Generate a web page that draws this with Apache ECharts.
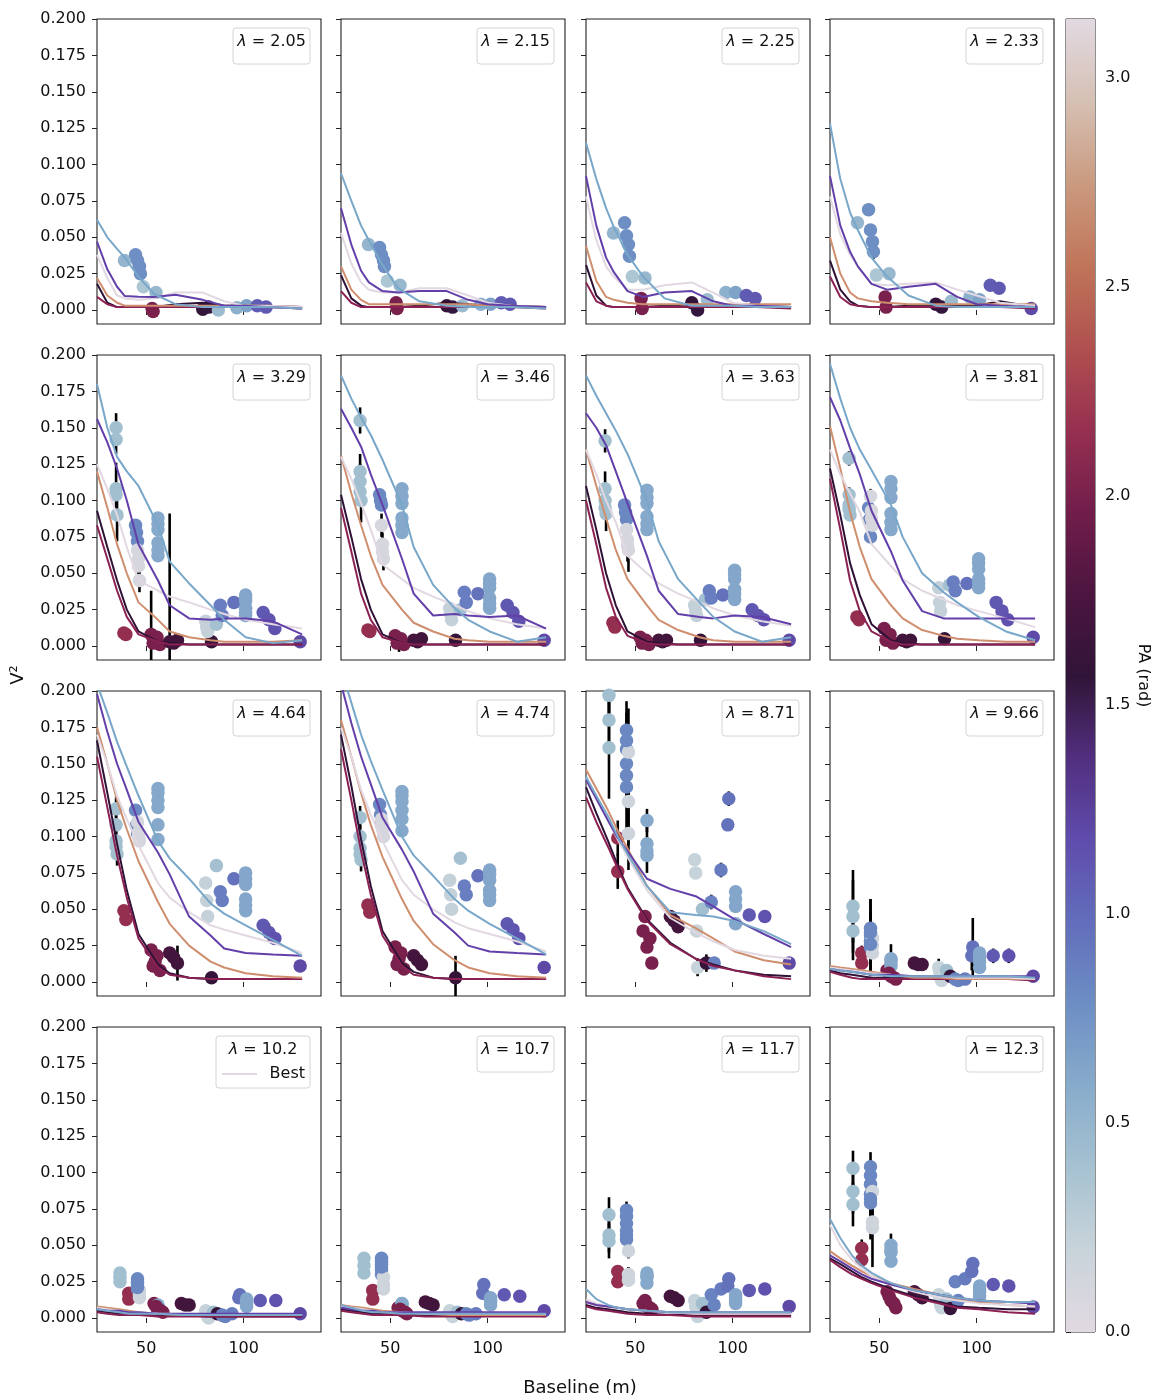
<!DOCTYPE html>
<html>
<head>
<meta charset="utf-8">
<script src="https://cdn.jsdelivr.net/npm/echarts@6/dist/echarts.min.js"></script>
<style>
  html, body { margin: 0; padding: 0; background: #fff; }
  #chart { width: 1156px; height: 1398px; }
</style>
</head>
<body>
<div id="chart"></div>
<script>
// ---------------------------------------------------------------------------
// Squared visibility vs. projected baseline, one panel per wavelength (micron)
// ---------------------------------------------------------------------------
const lambdaLabels = ['2.05', '2.15', '2.25', '2.33', '3.29', '3.46', '3.63', '3.81',
                      '4.64', '4.74', '8.71', '9.66', '10.2', '10.7', '11.7', '12.3'];

// axis ticks
const xTicks = [50, 100];
const yTicks = [0, 0.025, 0.05, 0.075, 0.1, 0.125, 0.15, 0.175, 0.2];
const paTicks = [0, 0.5, 1.0, 1.5, 2.0, 2.5, 3.0];

// --- K band uv points (baseline in m, position angle in rad) ---
const baselineK = [38.8, 44.5, 45.5, 46.5, 47.0, 48.5, 55.0, 53.0, 53.5, 79.0, 82.0, 87.0, 96.5, 101.5, 107.0, 111.5, 128.0];
const paK       = [0.50, 0.78, 0.78, 0.78, 0.78, 0.35, 0.48, 2.00, 2.00, 1.60, 1.55, 0.45, 0.55, 0.65, 1.08, 1.10, 1.20];

const v2_2_05 = [0.034, 0.038, 0.034, 0.030, 0.025, 0.016, 0.012, 0.001, -0.001, 0.0005, 0.002, 0.000, 0.0015, 0.003, 0.003, 0.002, null];
const v2_2_15 = [0.045, 0.043, 0.038, 0.034, 0.030, 0.020, 0.017, 0.005, 0.001, 0.003, 0.002, 0.003, 0.004, 0.004, 0.005, 0.004, null];
const v2_2_25 = [0.053, 0.060, 0.051, 0.045, 0.037, 0.023, 0.022, 0.008, 0.001, 0.005, 0.000, 0.007, 0.012, 0.012, 0.010, 0.008, null];
const v2_2_33 = [0.060, 0.069, 0.055, 0.047, 0.040, 0.024, 0.025, 0.009, 0.002, 0.004, 0.002, 0.006, 0.009, 0.007, 0.017, 0.015, 0.001];

// error bars: [point index, 1-sigma]
const err_2_05 = [[1, 0.004], [12, 0.004], [13, 0.004]];
const err_2_15 = [[1, 0.004]];
const err_2_25 = [[1, 0.004], [3, 0.006], [13, 0.003]];
const err_2_33 = [[1, 0.004], [4, 0.005]];

// --- L/M band uv points ---
const baselineL = [34.5, 34.5, 34.5, 35.0, 38.5, 39.5, 44.5, 45.0, 45.5, 45.5, 46.0, 46.5, 52.5, 54.5, 57.0,
                   56.0, 56.0, 56.0, 56.0, 62.0, 66.0, 83.5, 80.5, 81.0, 81.5, 86.0, 88.0, 89.0, 95.0,
                   101.0, 101.0, 101.0, 101.0, 110.0, 113.0, 116.0, 129.0,
                   56.0, 56.0, 101.0, 101.0, 46.0, 34.5, 55.5, 53.5, 64.0];
const paL = [0.42, 0.42, 0.42, 0.42, 2.15, 2.15, 0.82, 0.82, 0.82, 0.10, 0.10, 0.10, 2.00, 2.00, 2.00,
             0.60, 0.60, 0.60, 0.60, 1.72, 1.68, 1.60, 0.22, 0.22, 0.22, 0.40, 0.88, 0.88, 0.95,
             0.62, 0.62, 0.62, 0.62, 1.10, 1.12, 1.15, 1.20,
             0.60, 0.60, 0.62, 0.62, 0.10, 0.42, 2.00, 2.00, 1.70];

const v2_3_29 = [0.150, 0.142, 0.108, 0.090, 0.009, 0.008, 0.083, 0.078, 0.072, 0.066, 0.055, 0.045, 0.008, 0.003, 0.001,
                 0.088, 0.080, 0.071, 0.062, 0.003, 0.004, 0.003, 0.017, 0.013, 0.010, 0.015, 0.028, 0.021, 0.030,
                 0.035, 0.031, 0.026, 0.021, 0.023, 0.018, 0.012, 0.003,
                 0.084, 0.066, 0.033, 0.023, 0.060, 0.104, 0.006, 0.002, 0.002];
const v2_3_46 = [0.155, 0.120, 0.113, 0.100, 0.011, 0.010, 0.104, 0.100, 0.097, 0.083, 0.070, 0.060, 0.007, 0.003, 0.001,
                 0.108, 0.098, 0.088, 0.078, 0.004, 0.005, 0.004, 0.026, 0.022, 0.018, 0.025, 0.037, 0.030, 0.036,
                 0.046, 0.040, 0.033, 0.026, 0.028, 0.023, 0.017, 0.004,
                 0.103, 0.083, 0.043, 0.029, 0.065, 0.106, 0.005, 0.002, 0.003];
const v2_3_63 = [0.141, 0.108, 0.100, 0.091, 0.016, 0.013, 0.097, 0.092, 0.087, 0.080, 0.073, 0.066, 0.006, 0.003, 0.001,
                 0.107, 0.098, 0.089, 0.080, 0.004, 0.004, 0.004, 0.028, 0.024, 0.021, 0.032, 0.038, 0.033, 0.035,
                 0.052, 0.046, 0.039, 0.032, 0.025, 0.021, 0.018, 0.004,
                 0.102, 0.084, 0.049, 0.036, 0.069, 0.095, 0.004, 0.002, 0.003];
const v2_3_81 = [0.129, 0.104, 0.097, 0.090, 0.020, 0.018, 0.095, 0.087, 0.075, 0.103, 0.093, 0.083, 0.012, 0.005, 0.002,
                 0.113, 0.102, 0.091, 0.080, 0.004, 0.004, 0.005, 0.040, 0.030, 0.024, 0.042, 0.044, 0.038, 0.043,
                 0.060, 0.053, 0.046, 0.040, 0.030, 0.024, 0.018, 0.006,
                 0.108, 0.085, 0.057, 0.043, 0.088, 0.094, 0.008, 0.004, 0.003];
const v2_4_64 = [0.119, 0.108, 0.097, 0.088, 0.049, 0.043, 0.118, 0.108, 0.102, 0.110, 0.103, 0.097, 0.022, 0.014, 0.008,
                 0.133, 0.125, 0.108, 0.098, 0.020, 0.013, 0.003, 0.068, 0.056, 0.045, 0.080, 0.062, 0.056, 0.071,
                 0.075, 0.067, 0.057, 0.049, 0.039, 0.034, 0.030, 0.011,
                 0.130, 0.120, 0.071, 0.053, 0.100, 0.093, 0.018, 0.011, 0.017];
const v2_4_74 = [0.113, 0.100, 0.092, 0.084, 0.053, 0.048, 0.122, 0.115, 0.108, 0.112, 0.105, 0.100, 0.024, 0.016, 0.009,
                 0.131, 0.124, 0.112, 0.104, 0.018, 0.012, 0.003, 0.070, 0.060, 0.050, 0.085, 0.066, 0.060, 0.073,
                 0.077, 0.070, 0.063, 0.056, 0.040, 0.036, 0.030, 0.010,
                 0.128, 0.118, 0.074, 0.060, 0.108, 0.088, 0.020, 0.012, 0.015];

const err_3_29 = [[0, 0.010], [1, 0.010], [2, 0.018], [3, 0.018], [9, 0.008], [10, 0.008], [11, 0.008],
                  [12, 0.030], [15, 0.004], [19, 0.088], [26, 0.003]];
const err_3_46 = [[0, 0.009], [1, 0.012], [2, 0.012], [3, 0.015], [9, 0.008], [10, 0.008], [11, 0.008],
                  [13, 0.007], [15, 0.004], [26, 0.003]];
const err_3_63 = [[0, 0.008], [1, 0.012], [2, 0.012], [3, 0.012], [9, 0.015], [10, 0.015], [11, 0.015], [15, 0.004]];
const err_3_81 = [[0, 0.005], [1, 0.005], [9, 0.005], [15, 0.003], [26, 0.002]];
const err_4_64 = [[0, 0.008], [1, 0.008], [2, 0.008], [3, 0.008], [20, 0.012], [34, 0.006], [15, 0.003], [22, 0.003], [28, 0.003]];
const err_4_74 = [[0, 0.008], [1, 0.008], [2, 0.008], [3, 0.008], [21, 0.015], [15, 0.003], [22, 0.004]];

// --- N band uv points ---
const baselineN = [36.5, 36.5, 36.5, 41.0, 41.0, 45.5, 45.5, 45.5, 45.5, 46.5, 46.5, 46.5, 54.0, 56.0, 58.5,
                   56.0, 56.0, 56.0, 68.0, 72.0, 80.5, 81.0, 81.5, 82.0, 84.5, 86.5, 89.0, 90.5, 94.0,
                   97.5, 98.0, 101.5, 101.5, 101.5, 108.5, 116.5, 129.0,
                   45.5, 45.5, 101.5, 56.0, 55.0, 57.5, 70.0];
const paN = [0.42, 0.42, 0.42, 2.15, 2.15, 0.82, 0.82, 0.82, 0.82, 0.15, 0.15, 0.15, 2.00, 2.00, 2.00,
             0.60, 0.60, 0.60, 1.72, 1.70, 0.20, 0.20, 0.20, 0.20, 0.42, 1.60, 0.85, 0.85, 0.90,
             0.95, 0.95, 0.62, 0.62, 0.62, 1.10, 1.15, 1.20,
             0.82, 0.82, 0.62, 0.60, 2.00, 2.00, 1.70];

const v2_8_71 = [0.197, 0.180, 0.161, 0.099, 0.076, 0.173, 0.160, 0.150, 0.134, 0.158, 0.124, 0.102, 0.035, 0.024, 0.013,
                 0.111, 0.095, 0.087, 0.045, 0.038, 0.084, 0.075, 0.035, 0.010, 0.050, 0.013, 0.055, 0.013, 0.077,
                 0.108, 0.126, 0.062, 0.052, 0.040, 0.046, 0.045, 0.013,
                 0.166, 0.142, 0.057, 0.090, 0.045, 0.030, 0.042];
const v2_9_66 = [0.052, 0.045, 0.035, 0.020, 0.013, 0.037, 0.032, 0.028, 0.024, 0.030, 0.025, 0.020, 0.008, 0.004, 0.002,
                 0.016, 0.013, 0.011, 0.013, 0.012, 0.010, 0.007, 0.003, 0.001, 0.008, 0.004, 0.002, 0.001, 0.002,
                 0.018, 0.024, 0.020, 0.014, 0.010, 0.018, 0.018, 0.004,
                 0.034, 0.026, 0.017, 0.015, 0.006, 0.003, 0.012];
const v2_10_2 = [0.031, 0.028, 0.025, 0.017, 0.013, 0.027, 0.025, 0.022, 0.020, 0.019, 0.016, 0.014, 0.010, 0.006, 0.004,
                 0.009, 0.007, 0.005, 0.010, 0.009, 0.005, 0.003, 0.001, 0.000, 0.004, 0.003, 0.002, 0.001, 0.003,
                 0.014, 0.016, 0.013, 0.010, 0.008, 0.012, 0.012, 0.003,
                 0.024, 0.021, 0.011, 0.008, 0.008, 0.005, 0.009];
const v2_10_7 = [0.041, 0.036, 0.031, 0.019, 0.013, 0.041, 0.037, 0.033, 0.030, 0.028, 0.023, 0.020, 0.007, 0.005, 0.003,
                 0.010, 0.009, 0.007, 0.011, 0.009, 0.005, 0.004, 0.002, 0.001, 0.004, 0.003, 0.003, 0.002, 0.003,
                 0.017, 0.023, 0.014, 0.011, 0.009, 0.016, 0.015, 0.005,
                 0.039, 0.035, 0.012, 0.010, 0.006, 0.004, 0.010];
const v2_11_7 = [0.071, 0.057, 0.053, 0.032, 0.025, 0.074, 0.065, 0.060, 0.054, 0.046, 0.030, 0.026, 0.010, 0.008, 0.006,
                 0.031, 0.028, 0.024, 0.015, 0.012, 0.012, 0.008, 0.004, 0.001, 0.010, 0.004, 0.016, 0.009, 0.020,
                 0.022, 0.027, 0.014, 0.012, 0.010, 0.019, 0.020, 0.008,
                 0.070, 0.057, 0.016, 0.029, 0.012, 0.007, 0.014];
const v2_12_3 = [0.103, 0.087, 0.078, 0.048, 0.040, 0.104, 0.092, 0.085, 0.079, 0.087, 0.066, 0.062, 0.018, 0.012, 0.007,
                 0.050, 0.045, 0.039, 0.018, 0.014, 0.016, 0.012, 0.009, 0.007, 0.013, 0.0065, 0.025, 0.012, 0.027,
                 0.032, 0.0375, 0.020, 0.018, 0.015, 0.023, 0.022, 0.0076,
                 0.098, 0.082, 0.022, 0.047, 0.015, 0.010, 0.016];

const err_8_71 = [[0, 0.012], [1, 0.020], [2, 0.035], [3, 0.012], [4, 0.012], [5, 0.020], [6, 0.025], [7, 0.030],
                  [8, 0.030], [9, 0.030], [10, 0.030], [11, 0.025], [15, 0.008], [16, 0.012], [17, 0.012],
                  [20, 0.004], [23, 0.006], [25, 0.006], [26, 0.005], [28, 0.005], [29, 0.004], [30, 0.005]];
const err_9_66 = [[0, 0.025], [1, 0.025], [2, 0.020], [3, 0.005], [5, 0.020], [6, 0.025], [7, 0.020], [8, 0.020],
                  [15, 0.010], [20, 0.006], [21, 0.006], [29, 0.010], [30, 0.020], [34, 0.005], [35, 0.005]];
const err_10_2 = [];
const err_10_7 = [];
const err_11_7 = [[0, 0.012], [1, 0.012], [2, 0.012], [3, 0.004], [5, 0.006], [6, 0.006], [9, 0.005], [10, 0.005]];
const err_12_3 = [[0, 0.012], [1, 0.015], [2, 0.015], [3, 0.006], [5, 0.010], [6, 0.012], [7, 0.020], [8, 0.025],
                  [9, 0.020], [11, 0.027], [15, 0.008]];

// --- model curves: baselines where each model is evaluated ---
const modelBaseK = [24.7, 30, 35, 39, 46, 54, 65, 79, 90, 100, 112, 130];
const modelBaseL = [24.7, 30, 35, 40, 46, 56, 62, 72, 83, 90, 101, 115, 130];
const modelBaseN = [24.7, 30, 36, 41, 46, 56, 68, 81, 90, 101, 116, 130];

// model order: PA 0.5, PA 1.1, Best, PA 2.6, PA 1.6, PA 2.0
const model_2_05 = [
  [0.062, 0.050, 0.042, 0.036, 0.023, 0.011, 0.004, 0.002, 0.002, 0.002, 0.002, 0.001],
  [0.047, 0.028, 0.016, 0.0096, 0.0092, 0.009, 0.0105, 0.007, 0.003, 0.003, 0.002, 0.001],
  [0.038, 0.022, 0.010, 0.008, 0.007, 0.008, 0.012, 0.012, 0.006, 0.003, 0.003, 0.002],
  [0.022, 0.010, 0.005, 0.003, 0.003, 0.003, 0.003, 0.003, 0.003, 0.003, 0.003, 0.002],
  [0.018, 0.005, 0.002, 0.002, 0.002, 0.002, 0.004, 0.005, 0.003, 0.003, 0.003, 0.002],
  [0.009, 0.004, 0.002, 0.002, 0.002, 0.002, 0.002, 0.002, 0.002, 0.002, 0.002, 0.001]];
const model_2_15 = [
  [0.094, 0.075, 0.058, 0.048, 0.031, 0.015, 0.006, 0.003, 0.002, 0.002, 0.002, 0.001],
  [0.070, 0.045, 0.027, 0.019, 0.013, 0.012, 0.013, 0.013, 0.007, 0.004, 0.003, 0.002],
  [0.053, 0.032, 0.019, 0.014, 0.012, 0.012, 0.015, 0.015, 0.010, 0.005, 0.003, 0.002],
  [0.030, 0.014, 0.007, 0.004, 0.004, 0.004, 0.004, 0.004, 0.004, 0.003, 0.003, 0.002],
  [0.024, 0.008, 0.003, 0.002, 0.002, 0.002, 0.003, 0.005, 0.004, 0.003, 0.003, 0.002],
  [0.013, 0.005, 0.002, 0.002, 0.002, 0.002, 0.002, 0.002, 0.002, 0.002, 0.002, 0.001]];
const model_2_25 = [
  [0.115, 0.090, 0.070, 0.057, 0.038, 0.023, 0.008, 0.003, 0.003, 0.003, 0.002, 0.002],
  [0.092, 0.058, 0.036, 0.026, 0.013, 0.009, 0.012, 0.013, 0.006, 0.003, 0.003, 0.002],
  [0.078, 0.048, 0.030, 0.023, 0.014, 0.014, 0.017, 0.019, 0.012, 0.005, 0.003, 0.002],
  [0.044, 0.020, 0.009, 0.007, 0.005, 0.004, 0.004, 0.004, 0.004, 0.004, 0.004, 0.004],
  [0.031, 0.010, 0.003, 0.002, 0.002, 0.002, 0.003, 0.004, 0.003, 0.003, 0.003, 0.002],
  [0.019, 0.006, 0.003, 0.002, 0.002, 0.002, 0.002, 0.002, 0.002, 0.002, 0.002, 0.001]];
const model_2_33 = [
  [0.128, 0.090, 0.067, 0.055, 0.036, 0.023, 0.010, 0.003, 0.002, 0.002, 0.002, 0.002],
  [0.092, 0.058, 0.040, 0.030, 0.018, 0.014, 0.016, 0.018, 0.009, 0.004, 0.003, 0.002],
  [0.078, 0.052, 0.038, 0.030, 0.018, 0.017, 0.018, 0.019, 0.014, 0.010, 0.005, 0.003],
  [0.050, 0.025, 0.012, 0.008, 0.006, 0.005, 0.004, 0.004, 0.004, 0.004, 0.004, 0.004],
  [0.034, 0.014, 0.006, 0.003, 0.002, 0.002, 0.003, 0.003, 0.003, 0.003, 0.006, 0.002],
  [0.023, 0.009, 0.004, 0.003, 0.002, 0.002, 0.002, 0.002, 0.002, 0.002, 0.002, 0.001]];

const model_3_29 = [
  [0.180, 0.150, 0.130, 0.120, 0.110, 0.083, 0.058, 0.043, 0.028, 0.018, 0.006, 0.002, 0.004],
  [0.156, 0.140, 0.122, 0.100, 0.070, 0.045, 0.028, 0.019, 0.018, 0.019, 0.019, 0.017, 0.008],
  [0.125, 0.108, 0.090, 0.068, 0.045, 0.038, 0.034, 0.030, 0.025, 0.022, 0.018, 0.015, 0.012],
  [0.120, 0.095, 0.070, 0.050, 0.030, 0.018, 0.010, 0.006, 0.004, 0.003, 0.003, 0.003, 0.004],
  [0.093, 0.068, 0.045, 0.025, 0.010, 0.003, 0.002, 0.001, 0.001, 0.001, 0.001, 0.001, 0.001],
  [0.083, 0.060, 0.038, 0.020, 0.008, 0.003, 0.001, 0.001, 0.001, 0.001, 0.001, 0.001, 0.001]];
const model_3_46 = [
  [0.186, 0.170, 0.157, 0.145, 0.128, 0.097, 0.068, 0.042, 0.026, 0.018, 0.010, 0.003, 0.006],
  [0.163, 0.150, 0.137, 0.118, 0.097, 0.060, 0.036, 0.021, 0.022, 0.021, 0.020, 0.021, 0.012],
  [0.130, 0.115, 0.098, 0.080, 0.056, 0.046, 0.040, 0.034, 0.028, 0.024, 0.019, 0.015, 0.012],
  [0.131, 0.105, 0.083, 0.062, 0.042, 0.025, 0.016, 0.010, 0.005, 0.004, 0.003, 0.003, 0.003],
  [0.104, 0.075, 0.046, 0.025, 0.008, 0.002, 0.001, 0.001, 0.001, 0.001, 0.001, 0.001, 0.001],
  [0.095, 0.065, 0.036, 0.018, 0.006, 0.002, 0.001, 0.001, 0.001, 0.001, 0.001, 0.001, 0.001]];
const model_3_63 = [
  [0.186, 0.172, 0.160, 0.148, 0.132, 0.100, 0.072, 0.046, 0.030, 0.020, 0.010, 0.003, 0.006],
  [0.160, 0.150, 0.138, 0.120, 0.098, 0.062, 0.038, 0.022, 0.020, 0.019, 0.021, 0.020, 0.015],
  [0.135, 0.118, 0.100, 0.085, 0.062, 0.050, 0.043, 0.036, 0.030, 0.026, 0.021, 0.017, 0.014],
  [0.135, 0.110, 0.088, 0.066, 0.046, 0.028, 0.018, 0.011, 0.006, 0.004, 0.003, 0.003, 0.003],
  [0.110, 0.080, 0.050, 0.028, 0.010, 0.003, 0.002, 0.001, 0.001, 0.001, 0.001, 0.001, 0.001],
  [0.100, 0.070, 0.040, 0.020, 0.007, 0.002, 0.001, 0.001, 0.001, 0.001, 0.001, 0.001, 0.001]];
const model_3_81 = [
  [0.194, 0.170, 0.150, 0.135, 0.121, 0.097, 0.075, 0.050, 0.037, 0.030, 0.020, 0.010, 0.004],
  [0.171, 0.155, 0.136, 0.118, 0.093, 0.065, 0.045, 0.024, 0.019, 0.019, 0.019, 0.019, 0.019],
  [0.135, 0.118, 0.105, 0.092, 0.070, 0.055, 0.046, 0.038, 0.032, 0.028, 0.024, 0.019, 0.013],
  [0.151, 0.122, 0.092, 0.068, 0.046, 0.028, 0.019, 0.011, 0.007, 0.005, 0.004, 0.003, 0.003],
  [0.122, 0.090, 0.057, 0.035, 0.015, 0.004, 0.002, 0.001, 0.001, 0.001, 0.001, 0.001, 0.001],
  [0.115, 0.080, 0.045, 0.024, 0.010, 0.003, 0.001, 0.001, 0.001, 0.001, 0.001, 0.001, 0.001]];
const model_4_64 = [
  [0.205, 0.185, 0.165, 0.148, 0.128, 0.097, 0.085, 0.071, 0.054, 0.047, 0.039, 0.029, 0.018],
  [0.198, 0.172, 0.150, 0.132, 0.110, 0.089, 0.074, 0.045, 0.032, 0.023, 0.020, 0.019, 0.018],
  [0.170, 0.150, 0.128, 0.112, 0.094, 0.068, 0.058, 0.048, 0.039, 0.036, 0.032, 0.027, 0.020],
  [0.175, 0.150, 0.125, 0.105, 0.083, 0.055, 0.040, 0.025, 0.014, 0.010, 0.006, 0.004, 0.003],
  [0.166, 0.130, 0.095, 0.063, 0.033, 0.012, 0.006, 0.003, 0.002, 0.002, 0.002, 0.002, 0.002],
  [0.155, 0.120, 0.087, 0.058, 0.030, 0.010, 0.005, 0.003, 0.002, 0.002, 0.002, 0.002, 0.002]];
const model_4_74 = [
  [0.215, 0.192, 0.170, 0.152, 0.132, 0.100, 0.087, 0.073, 0.057, 0.049, 0.040, 0.030, 0.019],
  [0.205, 0.178, 0.155, 0.136, 0.113, 0.091, 0.076, 0.047, 0.034, 0.025, 0.021, 0.020, 0.019],
  [0.175, 0.155, 0.132, 0.115, 0.097, 0.070, 0.060, 0.050, 0.041, 0.037, 0.033, 0.028, 0.021],
  [0.180, 0.155, 0.130, 0.108, 0.086, 0.057, 0.042, 0.026, 0.015, 0.010, 0.006, 0.004, 0.003],
  [0.170, 0.135, 0.098, 0.066, 0.035, 0.013, 0.007, 0.003, 0.002, 0.002, 0.002, 0.002, 0.002],
  [0.160, 0.125, 0.090, 0.060, 0.032, 0.011, 0.005, 0.003, 0.002, 0.002, 0.002, 0.002, 0.002]];

const model_8_71 = [
  [0.141, 0.128, 0.114, 0.100, 0.088, 0.066, 0.048, 0.046, 0.045, 0.042, 0.035, 0.026],
  [0.139, 0.126, 0.111, 0.099, 0.090, 0.071, 0.064, 0.059, 0.052, 0.043, 0.033, 0.024],
  [0.140, 0.126, 0.111, 0.098, 0.086, 0.063, 0.044, 0.034, 0.028, 0.022, 0.018, 0.016],
  [0.146, 0.133, 0.118, 0.104, 0.092, 0.066, 0.046, 0.037, 0.030, 0.021, 0.015, 0.012],
  [0.134, 0.116, 0.097, 0.080, 0.065, 0.043, 0.027, 0.016, 0.012, 0.008, 0.005, 0.004],
  [0.127, 0.110, 0.093, 0.078, 0.064, 0.042, 0.026, 0.016, 0.011, 0.008, 0.004, 0.002]];
const model_9_66 = [
  [0.009, 0.008, 0.007, 0.006, 0.005, 0.004, 0.004, 0.004, 0.004, 0.004, 0.004, 0.003],
  [0.009, 0.008, 0.007, 0.006, 0.005, 0.005, 0.004, 0.004, 0.004, 0.004, 0.004, 0.004],
  [0.010, 0.009, 0.008, 0.007, 0.006, 0.005, 0.004, 0.004, 0.003, 0.003, 0.003, 0.002],
  [0.011, 0.010, 0.009, 0.008, 0.007, 0.005, 0.003, 0.003, 0.002, 0.002, 0.002, 0.002],
  [0.008, 0.006, 0.005, 0.004, 0.003, 0.003, 0.003, 0.002, 0.002, 0.002, 0.002, 0.002],
  [0.007, 0.005, 0.003, 0.002, 0.002, 0.002, 0.002, 0.002, 0.002, 0.002, 0.002, 0.001]];
const model_10_2 = [
  [0.006, 0.005, 0.004, 0.003, 0.003, 0.003, 0.002, 0.002, 0.002, 0.002, 0.002, 0.002],
  [0.006, 0.005, 0.005, 0.004, 0.004, 0.003, 0.003, 0.003, 0.003, 0.003, 0.003, 0.003],
  [0.007, 0.006, 0.005, 0.004, 0.004, 0.003, 0.003, 0.002, 0.002, 0.002, 0.002, 0.002],
  [0.008, 0.007, 0.006, 0.005, 0.004, 0.003, 0.002, 0.002, 0.002, 0.002, 0.002, 0.002],
  [0.005, 0.004, 0.003, 0.002, 0.002, 0.002, 0.002, 0.001, 0.001, 0.001, 0.001, 0.001],
  [0.004, 0.003, 0.002, 0.002, 0.002, 0.001, 0.001, 0.001, 0.001, 0.001, 0.001, 0.001]];
const model_10_7 = [
  [0.009, 0.007, 0.005, 0.004, 0.004, 0.003, 0.003, 0.003, 0.003, 0.003, 0.003, 0.003],
  [0.007, 0.006, 0.005, 0.005, 0.004, 0.004, 0.004, 0.004, 0.004, 0.004, 0.004, 0.004],
  [0.008, 0.007, 0.006, 0.005, 0.004, 0.004, 0.003, 0.003, 0.003, 0.003, 0.003, 0.003],
  [0.009, 0.008, 0.007, 0.006, 0.005, 0.004, 0.003, 0.002, 0.002, 0.002, 0.002, 0.002],
  [0.006, 0.005, 0.004, 0.003, 0.003, 0.002, 0.002, 0.002, 0.002, 0.002, 0.002, 0.002],
  [0.005, 0.004, 0.003, 0.002, 0.002, 0.002, 0.001, 0.001, 0.001, 0.001, 0.001, 0.001]];
const model_11_7 = [
  [0.020, 0.013, 0.009, 0.007, 0.006, 0.005, 0.004, 0.004, 0.004, 0.004, 0.004, 0.004],
  [0.011, 0.009, 0.008, 0.007, 0.006, 0.005, 0.004, 0.004, 0.004, 0.004, 0.004, 0.004],
  [0.013, 0.010, 0.008, 0.007, 0.006, 0.005, 0.004, 0.003, 0.003, 0.003, 0.003, 0.003],
  [0.011, 0.009, 0.008, 0.007, 0.006, 0.005, 0.004, 0.003, 0.003, 0.003, 0.003, 0.003],
  [0.009, 0.007, 0.006, 0.005, 0.004, 0.003, 0.002, 0.002, 0.002, 0.002, 0.002, 0.002],
  [0.008, 0.006, 0.005, 0.004, 0.003, 0.002, 0.002, 0.001, 0.001, 0.001, 0.001, 0.001]];
const model_12_3 = [
  [0.068, 0.055, 0.043, 0.036, 0.031, 0.024, 0.019, 0.016, 0.014, 0.012, 0.011, 0.011],
  [0.043, 0.039, 0.034, 0.030, 0.027, 0.023, 0.019, 0.016, 0.014, 0.012, 0.011, 0.010],
  [0.064, 0.050, 0.040, 0.034, 0.029, 0.023, 0.018, 0.014, 0.012, 0.010, 0.009, 0.008],
  [0.046, 0.041, 0.036, 0.032, 0.029, 0.024, 0.020, 0.016, 0.013, 0.011, 0.009, 0.008],
  [0.041, 0.037, 0.032, 0.028, 0.025, 0.020, 0.015, 0.011, 0.008, 0.007, 0.006, 0.006],
  [0.040, 0.035, 0.030, 0.027, 0.024, 0.019, 0.014, 0.010, 0.007, 0.006, 0.004, 0.003]];

// ---------------------------------------------------------------------------
// styling
// ---------------------------------------------------------------------------
const FONT = 'DejaVu Sans';
const modelColors = ['#78a7c9', '#633fa9', '#e2d8e2', '#cf8e6e', '#2e1236', '#8b2153'];
const modelDrawOrder = [4, 5, 3, 2, 1, 0];

// cyclic "twilight" palette sampled evenly over [0, pi]
const TWILIGHT = ['#e2d9e2', '#c8d3da', '#a6c2d1', '#87abcb', '#6d8ec4', '#626dbb', '#5f4cac', '#522f7f',
                  '#301437', '#4c1540', '#721d4b', '#963050', '#b0504f', '#c07559', '#ca9a7f', '#d6c0b4', '#e2d9e2'];
function hexRgb(h) { return [1, 3, 5].map(k => parseInt(h.substr(k, 2), 16)); }
function twilight(pa) {
  const t = Math.max(0, Math.min(1, pa / Math.PI)) * (TWILIGHT.length - 1);
  const i = Math.min(Math.floor(t), TWILIGHT.length - 2);
  const f = t - i;
  const a = hexRgb(TWILIGHT[i]), b = hexRgb(TWILIGHT[i + 1]);
  const c = a.map((v, k) => Math.round(v + (b[k] - v) * f));
  return `rgb(${c[0]},${c[1]},${c[2]})`;
}

// panel layout
const colLeft = [97, 341, 586, 830];
const rowTop = [19, 355, 691, 1027];
const panelW = 224, panelH = 305;
const X_MIN = 24.7, X_MAX = 139.7, Y_MIN = -0.0096, Y_MAX = 0.2;

const bands = {
  K: { base: baselineK, pa: paK, modelBase: modelBaseK },
  L: { base: baselineL, pa: paL, modelBase: modelBaseL },
  N: { base: baselineN, pa: paN, modelBase: modelBaseN }
};
const panelBand = ['K', 'K', 'K', 'K', 'L', 'L', 'L', 'L', 'L', 'L', 'N', 'N', 'N', 'N', 'N', 'N'];
const panelV2 = [v2_2_05, v2_2_15, v2_2_25, v2_2_33, v2_3_29, v2_3_46, v2_3_63, v2_3_81,
                 v2_4_64, v2_4_74, v2_8_71, v2_9_66, v2_10_2, v2_10_7, v2_11_7, v2_12_3];
const panelErr = [err_2_05, err_2_15, err_2_25, err_2_33, err_3_29, err_3_46, err_3_63, err_3_81,
                  err_4_64, err_4_74, err_8_71, err_9_66, err_10_2, err_10_7, err_11_7, err_12_3];
const panelModel = [model_2_05, model_2_15, model_2_25, model_2_33, model_3_29, model_3_46, model_3_63, model_3_81,
                    model_4_64, model_4_74, model_8_71, model_9_66, model_10_2, model_10_7, model_11_7, model_12_3];

const grids = [], xAxes = [], yAxes = [], series = [], graphics = [];
const tickStyle = { color: '#222', width: 1 };

lambdaLabels.forEach((lab, i) => {
  const row = Math.floor(i / 4), col = i % 4;
  const band = bands[panelBand[i]];
  const v2 = panelV2[i];

  grids.push({ left: colLeft[col], top: rowTop[row], width: panelW, height: panelH,
               show: true, borderColor: '#222', borderWidth: 1.1, backgroundColor: 'transparent' });
  xAxes.push({
    type: 'value', gridIndex: i, min: X_MIN, max: X_MAX,
    axisLine: { show: false }, splitLine: { show: false },
    axisTick: { show: true, customValues: xTicks, length: 5, inside: false, lineStyle: tickStyle },
    axisLabel: { show: row === 3, customValues: xTicks, margin: 9, fontFamily: FONT, fontSize: 16, color: '#111' }
  });
  yAxes.push({
    type: 'value', gridIndex: i, min: Y_MIN, max: Y_MAX,
    axisLine: { show: false }, splitLine: { show: false },
    axisTick: { show: true, customValues: yTicks, length: 5, inside: false, lineStyle: tickStyle },
    axisLabel: { show: col === 0, customValues: yTicks, margin: 11, fontFamily: FONT, fontSize: 16, color: '#111',
                 formatter: v => v.toFixed(3) }
  });

  // error bars
  series.push({
    type: 'custom', xAxisIndex: i, yAxisIndex: i, clip: true, z: 2, silent: true,
    data: panelErr[i].map(([k, e]) => [band.base[k], v2[k], e]),
    renderItem: (params, api) => {
      const x = api.value(0), y = api.value(1), e = api.value(2);
      const a = api.coord([x, y - e]), b = api.coord([x, y + e]);
      return { type: 'line', shape: { x1: a[0], y1: a[1], x2: b[0], y2: b[1] },
               style: { stroke: '#000', lineWidth: 2.6 } };
    }
  });

  // measured points coloured by position angle
  const pts = [];
  v2.forEach((v, k) => { if (v !== null) pts.push([band.base[k], v, band.pa[k]]); });
  series.push({
    type: 'scatter', xAxisIndex: i, yAxisIndex: i, z: 3, symbolSize: 13.5, silent: true,
    data: pts,
    itemStyle: { opacity: 1, color: p => twilight(p.value[2]) }
  });

  // model curves
  modelDrawOrder.forEach(m => {
    series.push({
      type: 'line', xAxisIndex: i, yAxisIndex: i, z: 4, showSymbol: false, silent: true,
      data: band.modelBase.map((x, k) => [x, panelModel[i][m][k]]),
      lineStyle: { color: modelColors[m], width: 2 }
    });
  });

  // per-panel legend box
  const right = colLeft[col] + panelW - 11;
  const top = rowTop[row] + 9;
  const withEntry = lab === '10.2';
  const boxW = withEntry ? 94 : 77, boxH = withEntry ? 52 : 36;
  graphics.push({
    type: 'rect', z: 100, shape: { x: right - boxW, y: top, width: boxW, height: boxH, r: 3 },
    style: { fill: 'rgba(255,255,255,0.85)', stroke: '#d4d4d4', lineWidth: 1 }
  });
  graphics.push({
    type: 'text', z: 101, x: right - boxW / 2, y: top + 14,
    style: {
      text: '{i|λ} = ' + lab, align: 'center', verticalAlign: 'middle',
      fontFamily: FONT, fontSize: 16, fill: '#111',
      rich: { i: { fontStyle: 'italic', fontFamily: FONT, fontSize: 16, fill: '#111' } }
    }
  });
  if (withEntry) {
    graphics.push({
      type: 'line', z: 101,
      shape: { x1: right - boxW + 6, y1: top + 38, x2: right - boxW + 41, y2: top + 38 },
      style: { stroke: modelColors[2], lineWidth: 2 }
    });
    graphics.push({
      type: 'text', z: 101, x: right - 5, y: top + 38,
      style: { text: 'Best', align: 'right', verticalAlign: 'middle', fontFamily: FONT, fontSize: 16, fill: '#111' }
    });
  }
});

// colour bar
const cbIndex = lambdaLabels.length;
grids.push({ left: 1066, top: 19, width: 29, height: 1313, show: true, borderColor: '#222', borderWidth: 1 });
xAxes.push({ type: 'value', gridIndex: cbIndex, min: 0, max: 1, show: false });
yAxes.push({
  type: 'value', gridIndex: cbIndex, min: 0, max: Math.PI, position: 'right',
  axisLine: { show: false }, splitLine: { show: false },
  axisTick: { show: true, customValues: paTicks, length: 5, lineStyle: tickStyle },
  axisLabel: { customValues: paTicks, margin: 10, fontFamily: FONT, fontSize: 16, color: '#111',
               formatter: v => v.toFixed(1) },
  name: 'PA (rad)', nameLocation: 'middle', nameRotate: -90, nameGap: 40,
  nameTextStyle: { fontFamily: FONT, fontSize: 16, color: '#111' }
});
const cbStops = [];
for (let k = 0; k <= 64; k++) cbStops.push({ offset: k / 64, color: twilight(Math.PI * k / 64) });
series.push({
  type: 'custom', xAxisIndex: cbIndex, yAxisIndex: cbIndex, silent: true, z: 1,
  data: [[0, 0]],
  renderItem: (params, api) => {
    const p0 = api.coord([0, 0]), p1 = api.coord([1, Math.PI]);
    return { type: 'rect', shape: { x: p0[0], y: p1[1], width: p1[0] - p0[0], height: p0[1] - p1[1] },
             style: { fill: new echarts.graphic.LinearGradient(0, 1, 0, 0, cbStops) } };
  }
});

// shared axis titles
graphics.push({
  type: 'text', x: 18, y: 675, rotation: Math.PI / 2,
  style: { text: 'V²', align: 'center', verticalAlign: 'middle', fontFamily: FONT, fontSize: 18, fill: '#111' }
});
graphics.push({
  type: 'text', x: 580, y: 1388,
  style: { text: 'Baseline (m)', align: 'center', verticalAlign: 'middle', fontFamily: FONT, fontSize: 18, fill: '#111' }
});

const chart = echarts.init(document.getElementById('chart'), null, { renderer: 'canvas' });
chart.setOption({
  animation: false,
  backgroundColor: '#fff',
  grid: grids, xAxis: xAxes, yAxis: yAxes,
  series: series,
  graphic: graphics
});
</script>
</body>
</html>
